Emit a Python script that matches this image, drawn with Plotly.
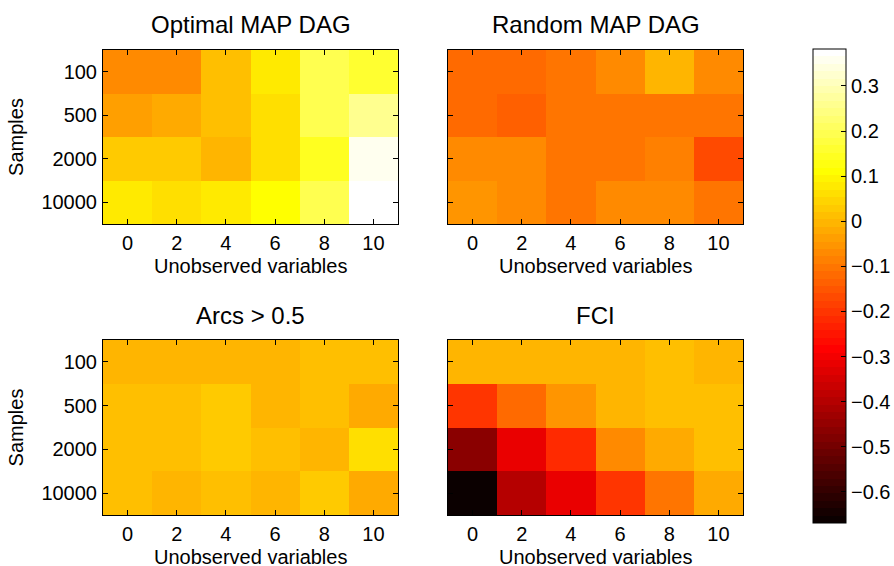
import plotly.graph_objects as go

# ---- data ----
unobserved = [0, 2, 4, 6, 8, 10]
samples = ["100", "500", "2000", "10000"]
titles = ["Optimal MAP DAG", "Random MAP DAG", "Arcs > 0.5", "FCI"]
x_title = "Unobserved variables"
y_title = "Samples"

optimal_map = [
    [-0.077, -0.065, 0.014, 0.080, 0.189, 0.154],
    [-0.037, -0.028, 0.014, 0.059, 0.189, 0.259],
    [0.028, 0.028, 0.003, 0.059, 0.140, 0.355],
    [0.071, 0.059, 0.077, 0.115, 0.189, 0.382],
]
random_map = [
    [-0.127, -0.127, -0.096, -0.077, -0.003, -0.065],
    [-0.111, -0.130, -0.110, -0.096, -0.096, -0.096],
    [-0.065, -0.077, -0.099, -0.102, -0.083, -0.164],
    [-0.053, -0.077, -0.096, -0.077, -0.077, -0.102],
]
arcs = [
    [-0.003, -0.003, -0.003, -0.003, 0.015, 0.015],
    [0.015, 0.015, 0.034, 0.003, 0.015, -0.015],
    [0.015, 0.015, 0.034, 0.015, -0.003, 0.065],
    [0.015, 0.003, 0.015, 0.003, 0.034, -0.028],
]
fci = [
    [0.003, 0.003, 0.003, 0.003, 0.015, -0.003],
    [-0.207, -0.127, -0.059, -0.012, 0.015, 0.015],
    [-0.471, -0.323, -0.213, -0.077, -0.028, 0.015],
    [-0.669, -0.406, -0.310, -0.195, -0.108, -0.015],
]
panels = [optimal_map, random_map, arcs, fci]

# ---- MATLAB "hot" colormap, 64 discrete levels ----
n = 64
n1 = 24
n2 = 24
n3 = n - n1 - n2
cols = []
for i in range(n):
    r = min(1.0, (i + 1) / n1)
    g = 0.0 if i < n1 else min(1.0, (i - n1 + 1) / n2)
    b = 0.0 if i < n1 + n2 else (i - n1 - n2 + 1) / n3
    cols.append("rgb(%d,%d,%d)" % (round(r * 255), round(g * 255), round(b * 255)))
colorscale = []
for i, c in enumerate(cols):
    colorscale.append([i / n, c])
    colorscale.append([(i + 1) / n, c])

allv = [v for p in panels for row in p for v in row]
zmin, zmax = min(allv), max(allv)

W, H = 894, 566
FONT = "Liberation Sans, Arial, sans-serif"

# plot boxes in pixels (left, right, top, bottom)
boxes = [
    (103, 398, 50, 224),
    (448, 743, 50, 224),
    (103, 398, 340, 515),
    (448, 743, 340, 515),
]

fig = go.Figure()
layout = dict(
    width=W, height=H,
    margin=dict(l=0, r=0, t=0, b=0, autoexpand=False),
    paper_bgcolor="white", plot_bgcolor="white",
    font=dict(family=FONT, size=20, color="black"),
    showlegend=False,
    coloraxis=dict(
        colorscale=colorscale, cmin=zmin, cmax=zmax,
        colorbar=dict(
            x=813 / W, xanchor="left", xpad=0,
            y=1 - 286 / H, yanchor="middle", ypad=0,
            thickness=33, len=474, lenmode="pixels",
            outlinewidth=1, outlinecolor="black",
            ticks="inside", ticklen=5, tickcolor="black",
            tick0=0, dtick=0.1,
            tickfont=dict(family=FONT, size=20, color="black"),
        ),
    ),
)
annotations = []
for k, (p, (l, r, t, b)) in enumerate(zip(panels, boxes)):
    ax = "" if k == 0 else str(k + 1)
    fig.add_trace(go.Heatmap(
        x=unobserved, y=samples, z=p, coloraxis="coloraxis",
        xaxis="x" + ax, yaxis="y" + ax, hoverongaps=False,
    ))
    layout["xaxis" + ax] = dict(
        domain=[l / W, r / W], anchor="y" + ax, automargin=False,
        range=[-1, 11], tickvals=unobserved,
        ticks="inside", ticklen=5, tickcolor="black",
        showline=True, linecolor="black", linewidth=1, mirror="ticks",
        showgrid=False, zeroline=False,
        tickfont=dict(size=20), ticklabelstandoff=1,
    )
    layout["yaxis" + ax] = dict(
        domain=[1 - b / H, 1 - t / H], anchor="x" + ax, automargin=False,
        type="category", autorange="reversed",
        ticks="inside", ticklen=5, tickcolor="black",
        showline=True, linecolor="black", linewidth=1, mirror="ticks",
        showgrid=False, zeroline=False,
        showticklabels=(k % 2 == 0),
        tickfont=dict(size=20), ticklabelstandoff=1,
        title=dict(text=y_title if k % 2 == 0 else "", font=dict(size=20), standoff=12),
    )
    annotations.append(dict(
        text=titles[k], x=(l + r) / 2 / W, y=1 - (t - 25) / H,
        xref="paper", yref="paper", xanchor="center", yanchor="middle",
        showarrow=False, font=dict(family=FONT, size=24, color="black"),
    ))
    annotations.append(dict(
        text=x_title, x=(l + r) / 2 / W, y=1 - (b + 42) / H,
        xref="paper", yref="paper", xanchor="center", yanchor="middle",
        showarrow=False, borderpad=0,
        font=dict(family=FONT, size=20, color="black"),
    ))
layout["annotations"] = annotations
fig.update_layout(**layout)
fig.write_html(
    "out.html",
    config={"displayModeBar": False},
    post_script="document.body.style.margin='0';document.body.style.overflow='hidden';",
)
